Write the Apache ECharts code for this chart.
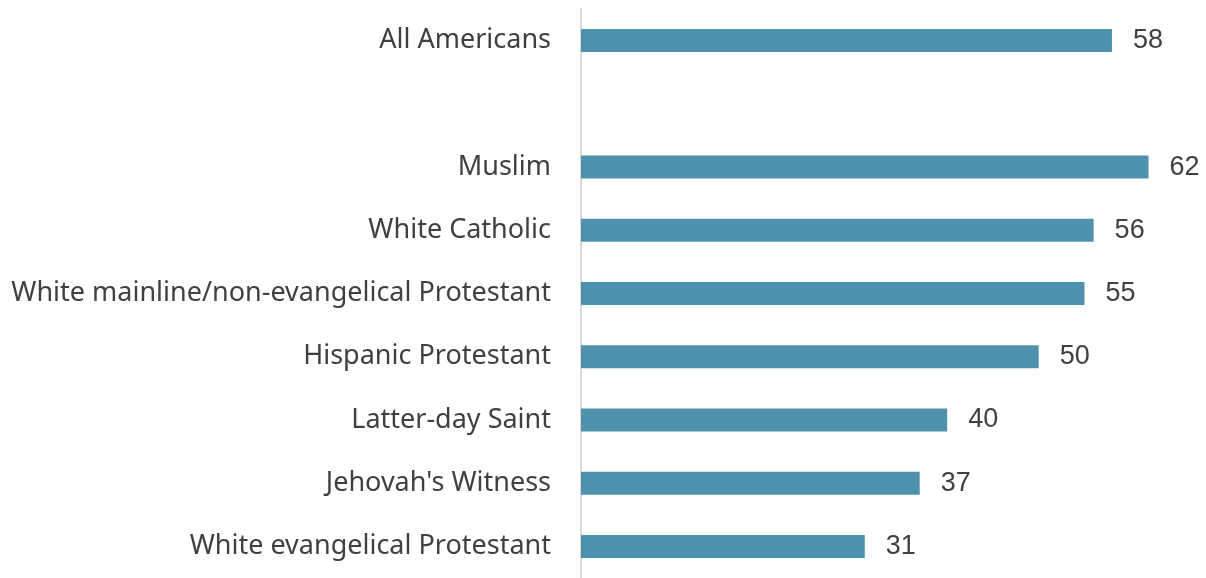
<!DOCTYPE html>
<html><head><meta charset="utf-8">
<script src="https://cdn.jsdelivr.net/npm/echarts@6/dist/echarts.min.js"></script>
<style>html,body{margin:0;padding:0;background:#fff}#c{width:1206px;height:578px}</style>
</head><body><div id="c"></div>
<script>
const categories = ["All Americans", "", "Muslim", "White Catholic", "White mainline/non-evangelical Protestant", "Hispanic Protestant", "Latter-day Saint", "Jehovah's Witness", "White evangelical Protestant"];
const values = [58, null, 62, 56, 55, 50, 40, 37, 31];

const chart = echarts.init(document.getElementById('c'));
chart.setOption({
  animation: false,
  grid: { left: 581, top: 9, width: 595, height: 576, containLabel: false },
  xAxis: { type: 'value', min: 0, max: 65, show: false },
  yAxis: {
    type: 'category', data: categories, inverse: true,
    axisLine: { show: true, lineStyle: { color: '#d9d9d9', width: 2 } },
    axisTick: { show: false },
    axisLabel: { margin: 30, fontSize: 27, color: '#404040', fontFamily: 'Noto Sans' }
  },
  series: [{
    type: 'bar', data: values, barWidth: 23,
    itemStyle: { color: '#4e91ad' },
    label: { show: true, position: 'right', distance: 21, fontSize: 27, color: '#404040', fontFamily: 'Liberation Sans' }
  }]
});
</script></body></html>
